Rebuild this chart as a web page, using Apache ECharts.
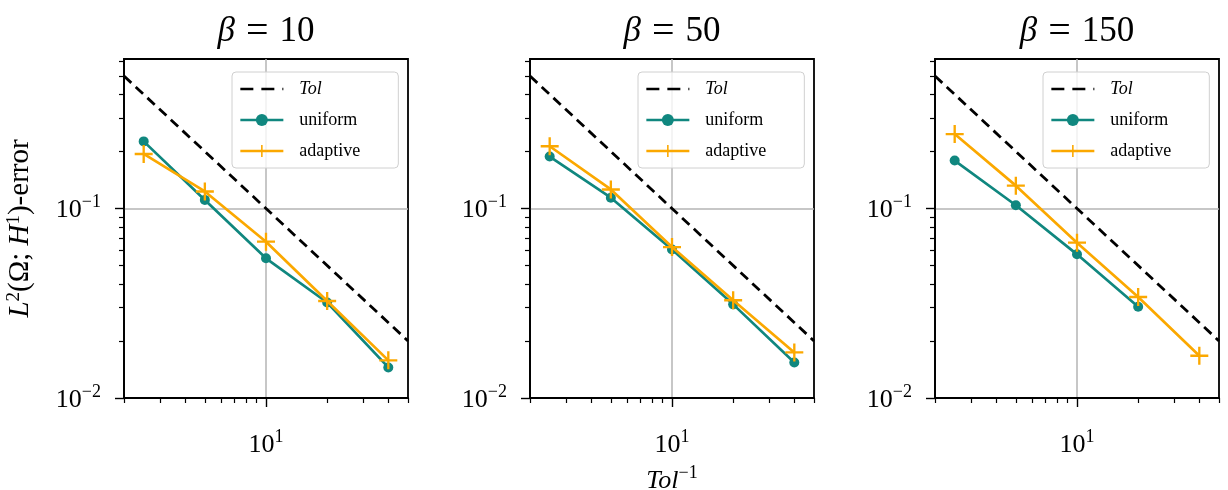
<!DOCTYPE html>
<html>
<head>
<meta charset="utf-8">
<script src="https://cdn.jsdelivr.net/npm/echarts@6/dist/echarts.min.js"></script>
<style>
  html, body { margin: 0; padding: 0; background: #fff; }
  #chart { width: 1228px; height: 490px; }
</style>
</head>
<body>
<div id="chart"></div>
<script>
// x values (Tol^-1) of the computed points
const tolInv = [2.5, 5, 10, 20, 40];
// reference line Tol, from left to right edge
const tolLineX = [2, 50];
const tolLineY = [0.5, 0.02];

const betas = [10, 50, 150];

// errors
const uniform10 = [0.226, 0.111, 0.0546, 0.0319, 0.0145];
const adaptive10 = [0.194, 0.123, 0.0668, 0.0325, 0.0158];
const uniform50 = [0.188, 0.114, 0.0608, 0.0312, 0.0154];
const adaptive50 = [0.213, 0.126, 0.0626, 0.0328, 0.0174];
const uniform150 = [0.179, 0.104, 0.0573, 0.0303];
const adaptive150 = [0.247, 0.132, 0.066, 0.0341, 0.0167];

const uniformAll = [uniform10, uniform50, uniform150];
const adaptiveAll = [adaptive10, adaptive50, adaptive150];

// ticks
const xMajor = [10];
const xMinor = [2, 3, 4, 5, 6, 7, 8, 9, 20, 30, 40, 50];
const yMajor = [0.01, 0.1];
const yMinor = [0.02, 0.03, 0.04, 0.05, 0.06, 0.07, 0.08, 0.09, 0.2, 0.3, 0.4, 0.5, 0.6];

const FONT = 'Liberation Serif';
const TEAL = '#10877f';
const ORANGE = '#fba800';
const PLUS = 'path://M8.7,0H11.3V8.7H20V11.3H11.3V20H8.7V11.3H0V8.7H8.7Z';

const gridLefts = [124, 530, 935];
const gridTop = 59;
const gridW = 284;
const gridH = 339;

const supRich = {
  n: { fontFamily: FONT, fontSize: 26, color: '#000', lineHeight: 30, verticalAlign: 'bottom' },
  i: { fontFamily: FONT, fontStyle: 'italic', fontSize: 26, color: '#000', lineHeight: 30, verticalAlign: 'bottom' },
  s: { fontFamily: FONT, fontSize: 18, color: '#000', lineHeight: 18, verticalAlign: 'top' }
};
const pow10 = v => {
  const e = Math.round(Math.log10(v));
  return '{n|10}{s|' + (e < 0 ? '\u2212' + (-e) : e) + '}';
};

const grid = [], xAxis = [], yAxis = [], series = [], legend = [], graphic = [];

betas.forEach((beta, p) => {
  const left = gridLefts[p];
  grid.push({
    left: left, top: gridTop, width: gridW, height: gridH,
    outerBoundsMode: 'none', containLabel: false,
    show: true, borderColor: '#000', borderWidth: 1.8, backgroundColor: '#fff'
  });

  // main x axis: major tick, label, grid line
  xAxis.push({
    type: 'log', logBase: 10, min: 2, max: 50, gridIndex: p, position: 'bottom',
    axisLine: { lineStyle: { color: '#000', width: 1.8 } },
    axisTick: { customValues: xMajor, length: 9, lineStyle: { color: '#000', width: 1.4 } },
    axisLabel: { customValues: xMajor, margin: 30, formatter: pow10, rich: supRich },
    splitLine: { show: true, lineStyle: { color: '#b4b4b4', width: 1.5 } },
    name: p === 1 ? '{i|Tol}{s|\u22121}' : '',
    nameLocation: 'middle', nameGap: 66,
    nameTextStyle: { rich: supRich }
  });
  // minor x ticks
  xAxis.push({
    type: 'log', logBase: 10, min: 2, max: 50, gridIndex: p, position: 'bottom', offset: 0,
    axisLine: { show: false },
    axisTick: { customValues: xMinor, length: 5, lineStyle: { color: '#000', width: 1.2 } },
    axisLabel: { show: false },
    splitLine: { show: false }
  });

  yAxis.push({
    type: 'log', logBase: 10, min: 0.01, max: 0.615, gridIndex: p, position: 'left',
    axisLine: { show: true, lineStyle: { color: '#000', width: 1.8 } },
    axisTick: { show: true, customValues: yMajor, length: 9, lineStyle: { color: '#000', width: 1.4 } },
    axisLabel: { customValues: yMajor, margin: 23, formatter: pow10, rich: supRich },
    splitLine: { show: true, lineStyle: { color: '#b4b4b4', width: 1.5 } },
    name: p === 0 ? '{i|L}{s|2}{t|(\u03a9; }{i|H}{s|1}{t|)-error}' : '',
    nameLocation: 'middle', nameRotate: 90, nameGap: 89,
    nameTextStyle: {
      rich: {
        t: { fontFamily: FONT, fontSize: 29, color: '#000', lineHeight: 30, verticalAlign: 'bottom' },
        i: { fontFamily: FONT, fontStyle: 'italic', fontSize: 29, color: '#000', lineHeight: 30, verticalAlign: 'bottom' },
        s: { fontFamily: FONT, fontSize: 19, color: '#000', lineHeight: 18, verticalAlign: 'top' }
      }
    }
  });
  // minor y ticks
  yAxis.push({
    type: 'log', logBase: 10, min: 0.01, max: 0.615, gridIndex: p, position: 'left', offset: 0,
    axisLine: { show: false },
    axisTick: { show: true, customValues: yMinor, length: 5, lineStyle: { color: '#000', width: 1.2 } },
    axisLabel: { show: false },
    splitLine: { show: false }
  });

  const xi = 2 * p, yi = 2 * p;
  series.push({
    name: 'Tol', type: 'line', xAxisIndex: xi, yAxisIndex: yi,
    data: tolLineX.map((x, i) => [x, tolLineY[i]]),
    symbol: 'none', lineStyle: { color: '#000', width: 2.8, type: [10, 6] },
    itemStyle: { color: '#000' }, z: 3
  });
  series.push({
    name: 'uniform', type: 'line', xAxisIndex: xi, yAxisIndex: yi,
    data: uniformAll[p].map((y, i) => [tolInv[i], y]),
    symbol: 'circle', symbolSize: 10,
    lineStyle: { color: TEAL, width: 2.7 }, itemStyle: { color: TEAL }, z: 4
  });
  series.push({
    name: 'adaptive', type: 'line', xAxisIndex: xi, yAxisIndex: yi,
    data: adaptiveAll[p].map((y, i) => [tolInv[i], y]),
    symbol: PLUS, symbolSize: 18,
    lineStyle: { color: ORANGE, width: 2.7 }, itemStyle: { color: ORANGE }, z: 5
  });

  legend.push({
    left: left + 108, top: 72, orient: 'vertical',
    data: [{ name: 'Tol', itemStyle: { opacity: 0 }, lineStyle: { type: [13, 8] } }, 'uniform', 'adaptive'],
    itemWidth: 43, itemHeight: 15, itemGap: 13,
    padding: [8, 38, 8, 7],
    lineStyle: { width: 2.7 },
    backgroundColor: 'rgba(255,255,255,0.8)',
    borderColor: '#d0d0d0', borderWidth: 1, borderRadius: 4,
    selectedMode: false,
    formatter: n => n === 'Tol' ? '{i|Tol}' : n,
    textStyle: {
      fontFamily: FONT, fontSize: 18, color: '#000', padding: [0, 0, 0, 11],
      rich: { i: { fontFamily: FONT, fontStyle: 'italic', fontSize: 18, color: '#000' } }
    }
  });

  graphic.push({
    type: 'text', x: left + gridW / 2, y: 32,
    style: {
      text: '{b|\u03b2}{e|=}{n|' + beta + '}', align: 'center', verticalAlign: 'middle',
      rich: {
        b: { fontFamily: FONT, fontStyle: 'italic', fontSize: 35, color: '#000' },
        e: { fontFamily: FONT, fontSize: 40, color: '#000', padding: [0, 11, 0, 11] },
        n: { fontFamily: FONT, fontSize: 35, color: '#000' }
      }
    }
  });
});

const chart = echarts.init(document.getElementById('chart'));
chart.setOption({
  animation: false,
  backgroundColor: '#fff',
  grid: grid,
  xAxis: xAxis,
  yAxis: yAxis,
  legend: legend,
  graphic: graphic,
  series: series
});
</script>
</body>
</html>
